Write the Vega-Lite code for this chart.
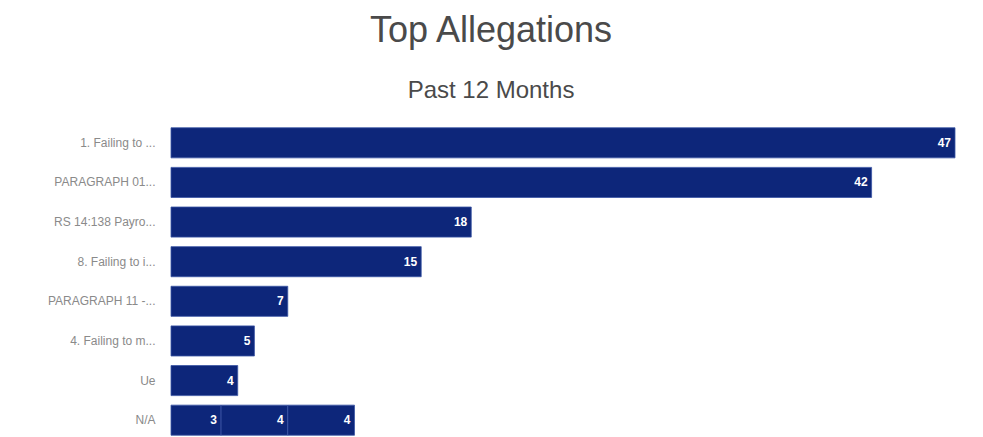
{
  "$schema": "https://vega.github.io/schema/vega-lite/v6.json",
  "autosize": {"type": "none"},
  "width": 784,
  "height": 317,
  "padding": {"left": 171, "top": 123, "right": 28, "bottom": 0},
  "background": "#ffffff",
  "title": {
    "text": "Top Allegations",
    "subtitle": "Past 12 Months",
    "anchor": "middle",
    "frame": "group",
    "dx": -72,
    "offset": 19,
    "font": "Liberation Sans",
    "fontSize": 36,
    "fontWeight": "normal",
    "color": "#4a4a4a",
    "subtitleFont": "Liberation Sans",
    "subtitleFontSize": 24,
    "subtitleColor": "#4a4a4a",
    "subtitlePadding": 29
  },
  "data": {
    "values": [
      {"allegation": "1. Failing to ...", "segment": 1, "count": 47},
      {"allegation": "PARAGRAPH 01...", "segment": 1, "count": 42},
      {"allegation": "RS 14:138 Payro...", "segment": 1, "count": 18},
      {"allegation": "8. Failing to i...", "segment": 1, "count": 15},
      {"allegation": "PARAGRAPH 11 -...", "segment": 1, "count": 7},
      {"allegation": "4. Failing to m...", "segment": 1, "count": 5},
      {"allegation": "Ue", "segment": 1, "count": 4},
      {"allegation": "N/A", "segment": 1, "count": 3},
      {"allegation": "N/A", "segment": 2, "count": 4},
      {"allegation": "N/A", "segment": 3, "count": 4}
    ]
  },
  "transform": [
    {"stack": "count", "groupby": ["allegation"], "sort": [{"field": "segment", "order": "ascending"}], "as": ["x0", "x1"]}
  ],
  "encoding": {
    "y": {
      "field": "allegation",
      "type": "nominal",
      "sort": ["1. Failing to ...", "PARAGRAPH 01...", "RS 14:138 Payro...", "8. Failing to i...", "PARAGRAPH 11 -...", "4. Failing to m...", "Ue", "N/A"],
      "scale": {"paddingInner": 0.24, "paddingOuter": 0.12},
      "axis": {
        "title": null,
        "domain": false,
        "ticks": false,
        "labelPadding": 16,
        "labelFont": "Liberation Sans",
        "labelFontSize": 12,
        "labelColor": "#8a8a8a",
        "labelLimit": 200
      }
    }
  },
  "layer": [
    {
      "mark": {"type": "bar", "color": "#0d267a", "stroke": "#3b55a5", "strokeWidth": 0.8},
      "encoding": {
        "x": {"field": "x0", "type": "quantitative", "scale": {"domain": [0, 47], "nice": false}, "axis": null},
        "x2": {"field": "x1"}
      }
    },
    {
      "mark": {"type": "text", "align": "right", "dx": -4, "color": "#ffffff", "font": "Liberation Sans", "fontSize": 12, "fontWeight": "bold"},
      "encoding": {
        "x": {"field": "x1", "type": "quantitative"},
        "text": {"field": "count", "type": "quantitative"}
      }
    }
  ],
  "config": {"view": {"stroke": null}}
}
